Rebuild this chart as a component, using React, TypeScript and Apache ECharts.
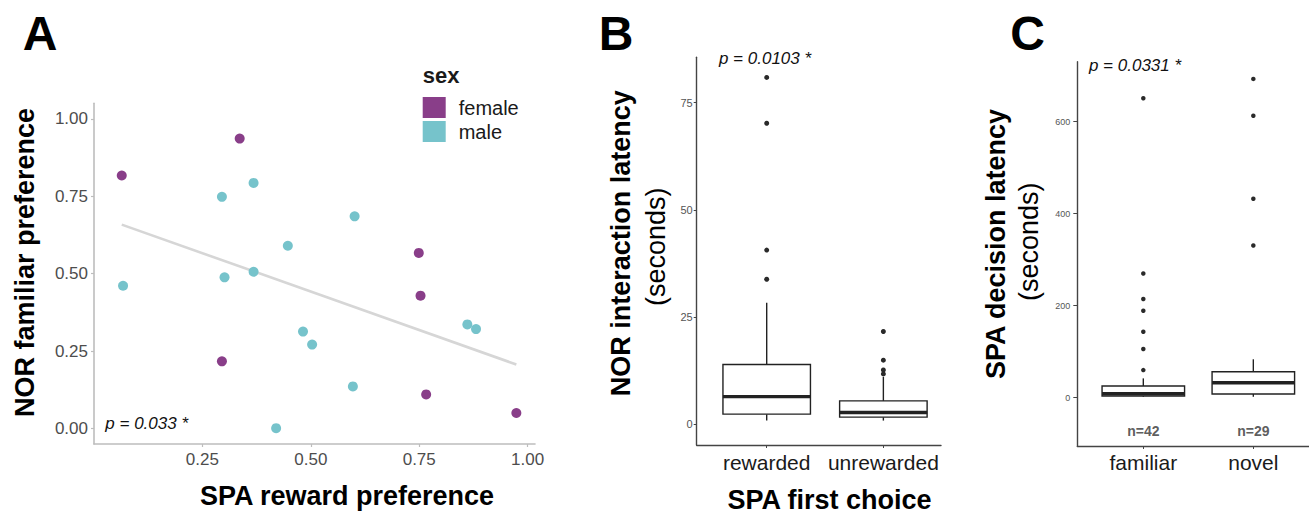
import React, { useEffect, useRef } from "react";
import * as echarts from "echarts";

// ---------- Panel A data ----------
const sexNames = ["female", "male"];
const femaleX = [0.064, 0.336, 0.295, 0.749, 0.753, 0.766, 0.974];
const femaleY = [0.817, 0.936, 0.217, 0.567, 0.429, 0.110, 0.050];
const maleX = [0.067, 0.295, 0.368, 0.301, 0.368, 0.447, 0.601, 0.482, 0.503, 0.597, 0.420, 0.861, 0.881];
const maleY = [0.461, 0.748, 0.793, 0.488, 0.506, 0.590, 0.685, 0.313, 0.271, 0.136, 0.001, 0.336, 0.321];
const aTicks = [0.25, 0.5, 0.75, 1.0];
const aYTicks = [0, 0.25, 0.5, 0.75, 1.0];

// ---------- Panel B data ----------
const bCategories = ["rewarded", "unrewarded"];
// [min whisker, Q1, median, Q3, max whisker]
const bStats = [
  [0.8, 2.3, 6.4, 13.9, 28.3],
  [0.8, 1.6, 2.7, 5.4, 11.0],
];
const bOutliers = [
  [80.9, 70.2, 40.6, 33.8],
  [21.6, 14.9, 12.6, 11.7],
];
const bYTicks = [0, 25, 50, 75];

// ---------- Panel C data ----------
const cCategories = ["familiar", "novel"];
const cStats = [
  [2, 3.6, 8.7, 25.4, 42],
  [2, 8, 32.6, 56.5, 83.5],
];
const cOutliers = [
  [651, 270, 214.5, 189, 143.5, 106, 60],
  [693, 613, 432.6, 331],
];
const cCounts = ["n=42", "n=29"];
const cCountY = -72;
const cYTicks = [0, 200, 400, 600];

const FONT = "'Liberation Sans', Arial, Helvetica, sans-serif";
const PURPLE = "#893E89";
const CYAN = "#76C3CB";
const INK = "#222222";

function boxRender(params: any, api: any) {
  const x = api.value(0);
  const lo = api.coord([x, api.value(1)]);
  const q1 = api.coord([x, api.value(2)]);
  const med = api.coord([x, api.value(3)]);
  const q3 = api.coord([x, api.value(4)]);
  const hi = api.coord([x, api.value(5)]);
  const w = api.size([0.75, 0])[0];
  const cx = q1[0];
  const ls = { stroke: INK, lineWidth: 1.4 };
  return {
    type: "group",
    children: [
      { type: "line", shape: { x1: cx, y1: hi[1], x2: cx, y2: q3[1] }, style: ls },
      { type: "line", shape: { x1: cx, y1: q1[1], x2: cx, y2: lo[1] }, style: ls },
      {
        type: "rect",
        shape: { x: cx - w / 2, y: q3[1], width: w, height: q1[1] - q3[1] },
        style: { stroke: INK, lineWidth: 1.4, fill: "#ffffff" },
      },
      {
        type: "line",
        shape: { x1: cx - w / 2, y1: med[1], x2: cx + w / 2, y2: med[1] },
        style: { stroke: INK, lineWidth: 3.4 },
      },
    ],
  };
}

function fitLine(xs: number[], ys: number[]) {
  const n = xs.length;
  const mx = xs.reduce((a, b) => a + b, 0) / n;
  const my = ys.reduce((a, b) => a + b, 0) / n;
  let sxy = 0;
  let sxx = 0;
  for (let i = 0; i < n; i++) {
    sxy += (xs[i] - mx) * (ys[i] - my);
    sxx += (xs[i] - mx) * (xs[i] - mx);
  }
  const b = sxy / sxx;
  const a = my - b * mx;
  const x0 = Math.min(...xs);
  const x1 = Math.max(...xs);
  return [
    [x0, a + b * x0],
    [x1, a + b * x1],
  ];
}

function txt(text: string, x: number, y: number, size: number, opts: any = {}) {
  return {
    type: "text",
    x,
    y,
    rotation: opts.rotation || 0,
    silent: true,
    style: {
      text,
      fontSize: size,
      fontWeight: opts.weight || "normal",
      fontStyle: opts.italic ? "italic" : "normal",
      fontFamily: FONT,
      fill: opts.color || "#000000",
      align: opts.align || "center",
      verticalAlign: "middle",
    },
  };
}

export default function App() {
  const ref = useRef<HTMLDivElement>(null);

  useEffect(() => {
    document.body.style.margin = "0";
    if (!ref.current) return;
    const chart = echarts.init(ref.current, undefined, { renderer: "svg" });

    const allX = [...femaleX, ...maleX];
    const allY = [...femaleY, ...maleY];
    const trend = fitLine(allX, allY);

    const femaleData = femaleX.map((x, i) => [x, femaleY[i]]);
    const maleData = maleX.map((x, i) => [x, maleY[i]]);
    const bBoxData = bStats.map((s, i) => [i + 1, ...s]);
    const cBoxData = cStats.map((s, i) => [i + 1, ...s]);
    const bOut: number[][] = [];
    bOutliers.forEach((arr, i) => arr.forEach((v) => bOut.push([i + 1, v])));
    const cOut: number[][] = [];
    cOutliers.forEach((arr, i) => arr.forEach((v) => cOut.push([i + 1, v])));
    const cCountData = cCounts.map((n, i) => ({ name: n, value: [i + 1, cCountY] }));

    const tickGray = "#4D4D4D";

    const option: any = {
      animation: false,
      backgroundColor: "#ffffff",
      textStyle: { fontFamily: FONT },
      grid: [
        { left: 94, top: 103.3, width: 441, height: 340.7, outerBoundsMode: "none", containLabel: false },
        { left: 696.7, top: 57.3, width: 244.3, height: 387.7, outerBoundsMode: "none", containLabel: false },
        { left: 1077.3, top: 61.7, width: 231.7, height: 384.3, outerBoundsMode: "none", containLabel: false },
      ],
      xAxis: [
        {
          gridIndex: 0,
          type: "value",
          min: 0,
          max: 1.017,
          splitLine: { show: false },
          axisLine: { onZero: false, lineStyle: { color: "#BDBDBD", width: 1.6 } },
          axisTick: { customValues: aTicks, length: 3, lineStyle: { color: "#BDBDBD", width: 1.2 } },
          axisLabel: {
            customValues: aTicks,
            formatter: (v: number) => v.toFixed(2),
            fontSize: 17,
            color: tickGray,
            margin: 7,
            fontFamily: FONT,
          },
        },
        {
          gridIndex: 1,
          type: "value",
          min: 0.4,
          max: 2.494,
          splitLine: { show: false },
          axisLine: { onZero: false, lineStyle: { color: "#444444", width: 1.4 } },
          axisTick: { customValues: [1, 2], length: 3, lineStyle: { color: "#444444" } },
          axisLabel: {
            customValues: [1, 2],
            formatter: (v: number) => bCategories[Math.round(v) - 1] || "",
            fontSize: 21,
            color: "#1a1a1a",
            margin: 7,
            fontFamily: FONT,
          },
        },
        {
          gridIndex: 2,
          type: "value",
          min: 0.4,
          max: 2.506,
          splitLine: { show: false },
          axisLine: { onZero: false, lineStyle: { color: "#444444", width: 1.4 } },
          axisTick: { customValues: [1, 2], length: 3, lineStyle: { color: "#444444" } },
          axisLabel: {
            customValues: [1, 2],
            formatter: (v: number) => cCategories[Math.round(v) - 1] || "",
            fontSize: 21,
            color: "#1a1a1a",
            margin: 6,
            fontFamily: FONT,
          },
        },
      ],
      yAxis: [
        {
          gridIndex: 0,
          type: "value",
          min: -0.05,
          max: 1.05,
          splitLine: { show: false },
          axisLine: { onZero: false, lineStyle: { color: "#BDBDBD", width: 1.6 } },
          axisTick: { customValues: aYTicks, length: 3, lineStyle: { color: "#BDBDBD", width: 1.2 } },
          axisLabel: {
            customValues: aYTicks,
            formatter: (v: number) => v.toFixed(2),
            fontSize: 17,
            color: tickGray,
            margin: 6,
            fontFamily: FONT,
          },
        },
        {
          gridIndex: 1,
          type: "value",
          min: -4.9,
          max: 85.6,
          splitLine: { show: false },
          axisLine: { onZero: false, lineStyle: { color: "#444444", width: 1.4 } },
          axisTick: { customValues: bYTicks, length: 3, lineStyle: { color: "#444444" } },
          axisLabel: {
            customValues: bYTicks,
            fontSize: 11,
            color: "#555555",
            margin: 4,
            fontFamily: FONT,
          },
        },
        {
          gridIndex: 2,
          type: "value",
          min: -105,
          max: 730.4,
          splitLine: { show: false },
          axisLine: { onZero: false, lineStyle: { color: "#444444", width: 1.4 } },
          axisTick: { customValues: cYTicks, length: 4, lineStyle: { color: "#444444" } },
          axisLabel: {
            customValues: cYTicks,
            fontSize: 9,
            color: "#555555",
            margin: 7,
            fontFamily: FONT,
          },
        },
      ],
      legend: {
        data: sexNames,
        left: 422.7,
        top: 97,
        orient: "vertical",
        icon: "rect",
        itemWidth: 23,
        itemHeight: 21,
        itemGap: 3,
        padding: 0,
        selectedMode: false,
        textStyle: { fontSize: 20, color: "#1a1a1a", fontFamily: FONT, padding: [0, 0, 0, 8] },
      },
      series: [
        {
          type: "line",
          name: "trend",
          xAxisIndex: 0,
          yAxisIndex: 0,
          data: trend,
          symbol: "none",
          lineStyle: { color: "#D6D6D6", width: 2.6 },
          z: 1,
          silent: true,
        },
        {
          type: "scatter",
          name: sexNames[0],
          xAxisIndex: 0,
          yAxisIndex: 0,
          data: femaleData,
          symbolSize: 10,
          itemStyle: { color: PURPLE, opacity: 1 },
          z: 3,
        },
        {
          type: "scatter",
          name: sexNames[1],
          xAxisIndex: 0,
          yAxisIndex: 0,
          data: maleData,
          symbolSize: 10,
          itemStyle: { color: CYAN, opacity: 1 },
          z: 3,
        },
        {
          type: "custom",
          name: "boxB",
          xAxisIndex: 1,
          yAxisIndex: 1,
          renderItem: boxRender,
          dimensions: ["x", "min", "q1", "median", "q3", "max"],
          encode: { x: 0, y: [1, 2, 3, 4, 5] },
          data: bBoxData,
          z: 2,
        },
        {
          type: "scatter",
          name: "outB",
          xAxisIndex: 1,
          yAxisIndex: 1,
          data: bOut,
          symbolSize: 5,
          itemStyle: { color: "#2a2a2a", opacity: 1 },
          z: 3,
        },
        {
          type: "custom",
          name: "boxC",
          xAxisIndex: 2,
          yAxisIndex: 2,
          renderItem: boxRender,
          dimensions: ["x", "min", "q1", "median", "q3", "max"],
          encode: { x: 0, y: [1, 2, 3, 4, 5] },
          data: cBoxData,
          z: 2,
        },
        {
          type: "scatter",
          name: "outC",
          xAxisIndex: 2,
          yAxisIndex: 2,
          data: cOut,
          symbolSize: 4.5,
          itemStyle: { color: "#2a2a2a", opacity: 1 },
          z: 3,
        },
        {
          type: "scatter",
          name: "countC",
          xAxisIndex: 2,
          yAxisIndex: 2,
          data: cCountData,
          symbolSize: 0,
          label: {
            show: true,
            position: "inside",
            formatter: (p: any) => p.name,
            fontSize: 14,
            fontWeight: "bold",
            color: "#333333",
            fontFamily: FONT,
          },
          z: 3,
        },
      ],
      graphic: [
        txt("A", 40, 33, 48, { weight: "bold" }),
        txt("B", 616, 33, 48, { weight: "bold" }),
        txt("C", 1027.5, 33, 48, { weight: "bold" }),
        txt("sex", 422.7, 75.6, 22, { weight: "bold", align: "left", color: "#1a1a1a" }),
        txt("SPA reward preference", 347, 496, 27, { weight: "bold" }),
        txt("NOR familiar preference", 25, 262.5, 27, { weight: "bold", rotation: Math.PI / 2 }),
        txt("p = 0.033 *", 146.7, 423, 17, { italic: true, color: "#111111" }),
        txt("SPA first choice", 829.5, 499.5, 27, { weight: "bold" }),
        txt("NOR interaction latency", 621, 243.3, 27, { weight: "bold", rotation: Math.PI / 2 }),
        txt("(seconds)", 655.5, 246.7, 27, { rotation: Math.PI / 2 }),
        txt("p = 0.0103 *", 765, 58.5, 17, { italic: true, color: "#111111" }),
        txt("SPA decision latency", 996, 244, 27, { weight: "bold", rotation: Math.PI / 2 }),
        txt("(seconds)", 1028.5, 241.7, 27, { rotation: Math.PI / 2 }),
        txt("p = 0.0331 *", 1135, 65, 17, { italic: true, color: "#111111" }),
      ],
    };

    chart.setOption(option);
    return () => {
      chart.dispose();
    };
  }, []);

  return <div ref={ref} style={{ width: 1309, height: 515, background: "#fff" }} />;
}
